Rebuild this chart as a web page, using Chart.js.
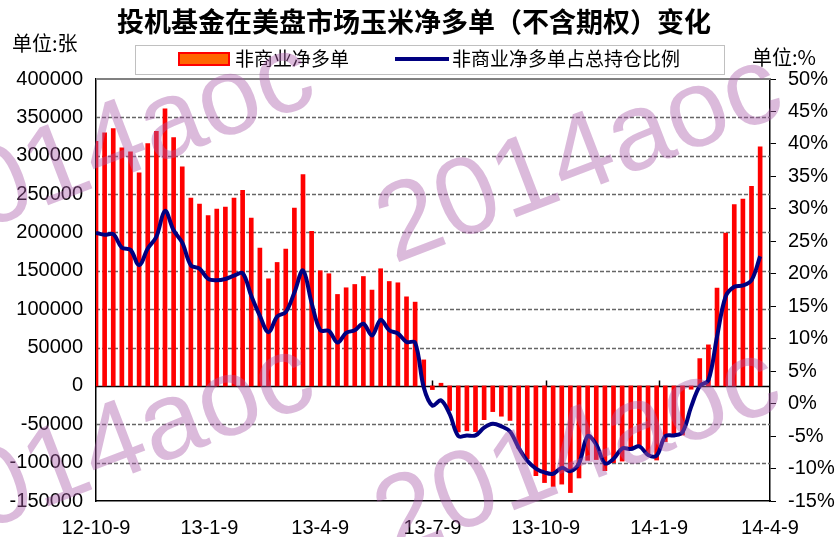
<!DOCTYPE html>
<html>
<head>
<meta charset="utf-8">
<script src="https://cdn.jsdelivr.net/npm/chart.js@4.4.1/dist/chart.umd.min.js"></script>
<style>
  html,body{margin:0;padding:0;background:#fff}
  canvas{display:block}
</style>
</head>
<body>
<canvas id="cot" width="835" height="537"></canvas>
<script>
/* ---- data: weekly COT, 2012-10-09 .. 2014-04-01 ---- */
const tickDays   = [0, 92, 182, 273, 365, 457, 547];
const tickLabels = ['12-10-9','13-1-9','13-4-9','13-7-9','13-10-9','14-1-9','14-4-9'];

// 非商业净多单 (张)
const netLong = [
  318800, 329700, 335400, 310200, 305000, 277600, 315800, 331900, 361100, 323600,
  285400, 244900, 237100, 221900, 230600, 233200, 244900, 254900, 218800, 179700,
  139600, 160900, 178400, 231900, 275400, 201400, 150100, 146200, 119200, 127900,
  132200, 142600, 124900, 152700, 136100, 134400, 116100, 109200, 33900, -4800,
  3500, -32000, -60000, -58500, -59600, -44000, -33500, -39500, -45000, -81000,
  -95000, -117000, -126000, -131000, -128000, -139000, -120000, -97000, -96000, -110500,
  -100000, -98000, -81300, -79200, -90000, -96600, -72700, -66100, -64000, -4300,
  35600, 53500, 127500, 199300, 236200, 243600, 260100, 311500
];
// 非商业净多单占总持仓比例 (%)
const ratio = [
  26.3, 26.0, 26.1, 24.0, 23.7, 21.3, 23.9, 25.7, 29.7, 26.7,
  24.8, 21.3, 20.8, 19.2, 19.0, 19.2, 19.7, 20.1, 16.6, 13.5,
  11.0, 13.4, 14.1, 17.1, 20.5, 15.5, 11.3, 11.2, 9.4, 10.9,
  11.3, 12.3, 10.5, 12.9, 11.3, 10.8, 9.5, 9.4, 2.5, -0.3,
  0.5, -1.6, -5.0, -4.9, -4.9, -3.7, -3.1, -3.5, -4.3, -6.8,
  -8.8, -10.0, -10.6, -10.8, -9.9, -10.4, -9.2, -5.0, -6.3, -9.2,
  -8.5, -6.9, -7.0, -6.6, -7.9, -8.0, -5.0, -4.9, -4.4, -0.5,
  2.7, 3.6, 10.3, 16.5, 18.0, 18.2, 19.0, 22.7
];
const leftMin = -150000, leftMax = 400000, leftStep = 50000;
const rightMin = -15, rightMax = 50, rightStep = 5;

const FONT = '"Liberation Sans", Arial, sans-serif';
const CJK  = '"Noto Sans CJK SC", sans-serif';

/* ---- 装饰: 网格, 零线, 边框, 标题, 图例, 水印 ---- */
const decor = {
  id: 'decor',
  beforeDatasetsDraw(chart){
    const {ctx, chartArea:a, scales:{x, y}} = chart;
    ctx.save();
    // dashed grid on the left scale
    ctx.strokeStyle = '#666666'; ctx.lineWidth = 1.3; ctx.setLineDash([4, 2]);
    for (let v = leftMin + leftStep; v < leftMax; v += leftStep) {
      if (v === 0) continue;
      const py = Math.round(y.getPixelForValue(v)) + 0.5;
      ctx.beginPath(); ctx.moveTo(a.left, py); ctx.lineTo(a.right, py); ctx.stroke();
    }
    ctx.setLineDash([]);
    // top border
    ctx.strokeStyle = '#808080'; ctx.lineWidth = 2;
    ctx.beginPath(); ctx.moveTo(a.left, a.top); ctx.lineTo(a.right, a.top); ctx.stroke();
    // zero line + date ticks
    const y0 = Math.round(y.getPixelForValue(0)) + 0.5;
    ctx.strokeStyle = '#000'; ctx.lineWidth = 1.5;
    ctx.beginPath(); ctx.moveTo(a.left, y0); ctx.lineTo(a.right, y0); ctx.stroke();
    x.ticks.slice(1, -1).forEach(t => {
      const px = Math.round(x.getPixelForValue(t.value)) + 0.5;
      ctx.beginPath(); ctx.moveTo(px, y0); ctx.lineTo(px, y0 - 6); ctx.stroke();
    });
    ctx.restore();
  },
  afterDraw(chart){
    const ctx = chart.ctx;
    ctx.save();
    ctx.fillStyle = '#000';
    ctx.textBaseline = 'middle';
    // title
    ctx.font = 'bold 27px ' + CJK;
    ctx.textAlign = 'center';
    ctx.fillText('投机基金在美盘市场玉米净多单（不含期权）变化', 414, 22);
    // units
    ctx.font = '20px ' + CJK;
    ctx.textAlign = 'left';
    ctx.fillText('单位:张', 12, 43);
    ctx.fillText('单位:%', 752, 57);
    // legend
    ctx.strokeStyle = '#C0C0C0'; ctx.lineWidth = 1;
    ctx.strokeRect(135.5, 45.5, 589, 29);
    ctx.fillStyle = '#FF6600';
    ctx.fillRect(179, 53, 50, 12);
    ctx.strokeStyle = '#FF0000'; ctx.lineWidth = 2;
    ctx.strokeRect(179, 53, 50, 12);
    ctx.strokeStyle = '#000080'; ctx.lineWidth = 4;
    ctx.beginPath(); ctx.moveTo(395, 59); ctx.lineTo(449, 59); ctx.stroke();
    ctx.fillStyle = '#000';
    ctx.font = '19px ' + CJK;
    ctx.fillText('非商业净多单', 235, 59);
    ctx.fillText('非商业净多单占总持仓比例', 452, 59);
    // watermarks
    ctx.font = '110px "Liberation Sans"';
    ctx.textBaseline = 'alphabetic';
    ctx.fillStyle = 'rgba(170,90,170,0.42)';
    [[-74, 252], [394, 264], [-74, 553], [392, 557]].forEach(([wx, wy]) => {
      ctx.save();
      ctx.translate(wx, wy);
      ctx.rotate(-21 * Math.PI / 180);
      ctx.fillText('2014aoc', 0, 0);
      ctx.restore();
    });
    ctx.restore();
  }
};

new Chart(document.getElementById('cot'), {
  type: 'bar',
  data: {
    datasets: [
      {
        type: 'line', label: '非商业净多单占总持仓比例', yAxisID: 'y1', order: 1,
        data: ratio.map((v, i) => ({x: i * 7, y: v})),
        borderColor: '#000080', borderWidth: 4, pointRadius: 0, tension: 0.35, fill: false
      },
      {
        type: 'bar', label: '非商业净多单', yAxisID: 'y', order: 2,
        data: netLong.map((v, i) => ({x: i * 7, y: v})),
        backgroundColor: '#FF0000', barThickness: 4
      }
    ]
  },
  options: {
    responsive: false, animation: false,
    layout: {padding: {top: 79, left: 0, right: 0, bottom: 0}},
    plugins: {legend: {display: false}, title: {display: false}, tooltip: {enabled: false}},
    scales: {
      x: {
        type: 'linear', min: 0, max: 547, offset: false,
        afterBuildTicks: s => { s.ticks = tickDays.map(v => ({value: v})); },
        afterFit: s => { s.height = 36; },
        grid: {display: false, drawTicks: false},
        border: {display: true, color: '#000', width: 1.5},
        ticks: {autoSkip: false, maxRotation: 0, padding: 15, color: '#000',
                font: {family: FONT, size: 20}, callback: (v, i) => tickLabels[i]}
      },
      y: {
        position: 'left', min: leftMin, max: leftMax,
        afterFit: s => { s.width = 96; },
        ticks: {stepSize: leftStep, padding: 13, color: '#000', font: {family: FONT, size: 20},
                callback: v => String(v)},
        grid: {display: false, drawTicks: false},
        border: {display: true, color: '#000', width: 1.5}
      },
      y1: {
        position: 'right', min: rightMin, max: rightMax,
        afterFit: s => { s.width = 65; },
        ticks: {stepSize: rightStep, padding: 12, color: '#000', font: {family: FONT, size: 20},
                callback: v => v + '%'},
        grid: {drawOnChartArea: false, drawTicks: true, tickLength: 6, tickColor: '#000', color: '#000'},
        border: {color: '#000', width: 1.5}
      }
    }
  },
  plugins: [decor]
});
</script>
</body>
</html>
